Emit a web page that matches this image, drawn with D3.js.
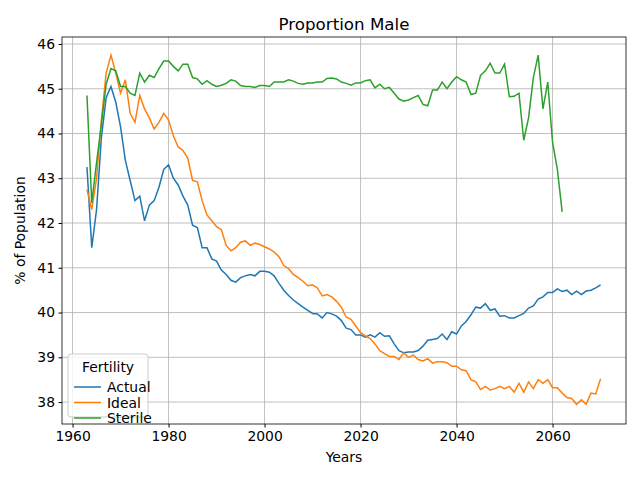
<!DOCTYPE html>
<html><head><meta charset="utf-8">
<script src="https://cdn.jsdelivr.net/npm/d3@7"></script>
<style>body{margin:0;background:#fff}svg{font-family:"DejaVu Sans",sans-serif}</style>
</head><body><svg id="chart" width="640" height="480"></svg>
<script>
const startYear = 1963;
const actual = [43.25,41.45,42.3,43.9,44.8,45.05,44.7,44.15,43.4,42.95,42.5,42.6,42.05,42.4,42.5,42.8,43.2,43.3,43.0,42.85,42.6,42.4,41.95,41.9,41.45,41.45,41.2,41.15,40.95,40.85,40.72,40.68,40.78,40.82,40.85,40.82,40.92,40.92,40.9,40.82,40.65,40.5,40.38,40.28,40.2,40.12,40.05,39.98,39.97,39.88,40.0,39.97,39.92,39.82,39.65,39.62,39.5,39.5,39.45,39.5,39.45,39.55,39.47,39.48,39.3,39.15,39.1,39.12,39.12,39.15,39.25,39.38,39.4,39.42,39.52,39.4,39.57,39.52,39.7,39.8,39.95,40.12,40.1,40.2,40.05,40.08,39.92,39.93,39.88,39.88,39.93,39.98,40.1,40.15,40.3,40.35,40.45,40.45,40.53,40.47,40.5,40.4,40.48,40.4,40.48,40.5,40.55,40.62];
const ideal = [42.75,42.3,43.0,44.3,45.35,45.75,45.35,44.9,45.2,44.45,44.25,44.85,44.55,44.35,44.1,44.25,44.45,44.3,43.95,43.7,43.62,43.45,42.95,42.92,42.5,42.18,42.05,41.92,41.85,41.5,41.38,41.45,41.57,41.6,41.5,41.55,41.52,41.47,41.42,41.35,41.25,41.05,40.98,40.85,40.78,40.7,40.6,40.62,40.55,40.37,40.4,40.35,40.25,40.12,39.9,39.85,39.7,39.55,39.48,39.42,39.3,39.15,39.08,39.02,39.02,38.95,39.1,39.0,39.05,38.95,38.92,38.97,38.87,38.9,38.9,38.88,38.8,38.8,38.72,38.7,38.5,38.45,38.28,38.35,38.27,38.3,38.35,38.3,38.35,38.22,38.42,38.22,38.45,38.3,38.5,38.42,38.5,38.32,38.32,38.2,38.1,38.08,37.95,38.05,37.95,38.2,38.18,38.52];
const sterile = [44.85,42.45,43.35,44.2,45.1,45.45,45.4,45.05,45.05,44.9,44.85,45.35,45.15,45.3,45.25,45.45,45.62,45.62,45.5,45.4,45.55,45.55,45.25,45.22,45.1,45.18,45.1,45.05,45.08,45.12,45.2,45.17,45.07,45.05,45.05,45.03,45.07,45.07,45.05,45.15,45.15,45.15,45.2,45.17,45.12,45.1,45.13,45.13,45.15,45.15,45.23,45.24,45.22,45.15,45.12,45.08,45.13,45.13,45.18,45.2,45.02,45.1,45.0,45.03,44.9,44.77,44.72,44.75,44.8,44.85,44.65,44.62,44.97,44.97,45.15,45.0,45.15,45.27,45.2,45.15,44.87,44.9,45.3,45.4,45.57,45.35,45.35,45.55,44.82,44.83,44.9,43.85,44.35,45.25,45.75,44.55,45.15,43.8,43.2,42.25];
const seriesNames = ["Actual","Ideal","Sterile"];
const colors = ["#1f77b4","#ff7f0e","#2ca02c"];
const xTicks = [1960,1980,2000,2020,2040,2060];
const yTicks = [38,39,40,41,42,43,44,45,46];

const svg = d3.select("#chart");
const m = {left:62, right:626, top:37, bottom:424};
const x = d3.scaleLinear().domain([1957.8,2075.3]).range([m.left,m.right]);
const y = d3.scaleLinear().domain([37.51,46.156]).range([m.bottom,m.top]);

// grid
svg.append("g").selectAll("line").data(xTicks).join("line")
  .attr("x1",d=>x(d)).attr("x2",d=>x(d)).attr("y1",m.top).attr("y2",m.bottom)
  .style("stroke","#b0b0b0").style("stroke-width","0.8px");
svg.append("g").selectAll("line").data(yTicks).join("line")
  .attr("x1",m.left).attr("x2",m.right).attr("y1",d=>y(d)).attr("y2",d=>y(d))
  .style("stroke","#b0b0b0").style("stroke-width","0.8px");

const line = d3.line().x((d,i)=>x(startYear+i)).y(d=>y(d));
[actual,ideal,sterile].forEach((s,k)=>{
  svg.append("path").attr("d",line(s)).style("fill","none")
    .style("stroke",colors[k]).style("stroke-width","1.5px");
});

svg.append("rect").attr("x",m.left).attr("y",m.top).attr("width",m.right-m.left).attr("height",m.bottom-m.top)
  .style("fill","none").style("stroke","#000").style("stroke-width","0.8px");

const xAxis = svg.append("g").attr("transform",`translate(0,${m.bottom})`)
  .call(d3.axisBottom(x).tickValues(xTicks).tickFormat(d3.format("d")).tickSize(3.5).tickPadding(3.5));
const yAxis = svg.append("g").attr("transform",`translate(${m.left},0)`)
  .call(d3.axisLeft(y).tickValues(yTicks).tickSize(3.5).tickPadding(3.5));
[xAxis,yAxis].forEach(a=>{
  a.select(".domain").remove();
  a.selectAll("text").style("font-size","13.9px").style("fill","#000").style("font-family","DejaVu Sans");
  a.selectAll("line").style("stroke","#000");
});

svg.append("text").attr("x",(m.left+m.right)/2).attr("y",30).attr("text-anchor","middle")
  .style("font-size","16.7px").text("Proportion Male");
svg.append("text").attr("x",(m.left+m.right)/2).attr("y",462).attr("text-anchor","middle")
  .style("font-size","13.9px").text("Years");
svg.append("text").attr("transform",`translate(25,${(m.top+m.bottom)/2}) rotate(-90)`).attr("text-anchor","middle")
  .style("font-size","13.9px").text("% of Population");

// legend
const lg = svg.append("g").attr("transform","translate(68,354)");
lg.append("rect").attr("width",80).attr("height",63).attr("rx",3)
  .style("fill","#fff").style("fill-opacity",0.8).style("stroke","#cccccc");
lg.append("text").attr("x",40).attr("y",18).attr("text-anchor","middle").style("font-size","13.9px").text("Fertility");
seriesNames.forEach((n,i)=>{
  const yy = 33 + i*15.5;
  lg.append("line").attr("x1",6).attr("x2",33).attr("y1",yy).attr("y2",yy)
    .style("stroke",colors[i]).style("stroke-width","1.5px");
  lg.append("text").attr("x",39).attr("y",yy+5).style("font-size","13.9px").text(n);
});
</script></body></html>
